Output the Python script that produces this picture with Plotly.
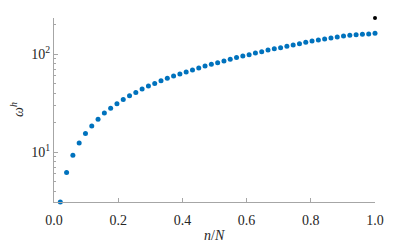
import math
import plotly.graph_objects as go

# Data
N = 51
n_index = list(range(1, 52))
omega_h = [3.11, 6.2, 9.3, 12.4, 15.5, 18.5, 21.7, 25.0, 28.1, 31.1,
           34.4, 37.5, 40.6, 43.9, 47.1, 50.2, 53.4, 56.5, 59.6, 62.5,
           65.5, 68.7, 72.0, 75.5, 78.5, 81.5, 84.8, 88.3, 92.0, 95.4,
           98.4, 102.4, 105.5, 109.9, 113.3, 115.9, 119.9, 123.6, 127.4, 132.0,
           135.8, 139.0, 142.3, 145.6, 149.0, 152.6, 155.2, 157.4, 158.8, 160.2,
           162.6]
extra_x = [1.0]
extra_y = [232.6]

x_ticks = [0.0, 0.2, 0.4, 0.6, 0.8, 1.0]
x_ticktext = ["0.0", "0.2", "0.4", "0.6", "0.8", "1.0"]
y_ticks = [10, 100]
y_ticktext = ["10<sup>1</sup>", "10<sup>2</sup>"]

x_vals = [k / N for k in n_index]

FONT = "Liberation Serif"
AX = "#a6a6a6"
TXT = "#262626"

# page body adds ~8px offset; figure sized so the page is 415x243
W, H = 407, 235
ML, MR, MT, MB = 46, 40, 10, 41
PW, PH = W - ML - MR, H - MT - MB

fig = go.Figure()
fig.add_trace(go.Scatter(x=x_vals, y=omega_h, mode="markers",
                         marker=dict(color="#0072BD", size=5, line=dict(width=0)),
                         cliponaxis=False, showlegend=False))
fig.add_trace(go.Scatter(x=extra_x, y=extra_y, mode="markers",
                         marker=dict(color="black", size=4, line=dict(width=0)),
                         cliponaxis=False, showlegend=False))

ymin = min(omega_h + extra_y)
ymax = max(omega_h + extra_y)
minor_vals = [v * d for d in (1, 10, 100) for v in range(2, 10)]
minor_vals = [v for v in minor_vals if ymin <= v <= ymax]

fig.update_layout(
    width=W, height=H,
    margin=dict(l=ML, r=MR, t=MT, b=MB, autoexpand=False),
    paper_bgcolor="white", plot_bgcolor="white",
    font=dict(family=FONT, size=14, color=TXT),
    xaxis=dict(range=[0, 1], tickvals=x_ticks, ticktext=x_ticktext,
               showline=True, linecolor=AX, linewidth=1, mirror=False,
               ticks="inside", ticklen=4, tickcolor=AX, showgrid=False,
               zeroline=False, automargin=False, ticklabelstandoff=5,
               tickfont=dict(family=FONT, size=14, color=TXT)),
    yaxis=dict(type="log", range=[math.log10(ymin), math.log10(ymax)],
               tickvals=y_ticks, ticktext=y_ticktext,
               showline=True, linecolor=AX, linewidth=1, mirror=False,
               ticks="inside", ticklen=4, tickcolor=AX, showgrid=False,
               zeroline=False, automargin=False,
               tickfont=dict(family=FONT, size=14, color=TXT),
               minor=dict(tickvals=minor_vals, ticks="inside", ticklen=2,
                          tickcolor=AX, showgrid=False)),
    annotations=[
        dict(text="<i>n</i>/<i>N</i>", xref="paper", yref="paper",
             x=0.5, y=(PH - (227 - MT)) / PH, xanchor="center", yanchor="middle",
             showarrow=False, font=dict(family=FONT, size=14, color=TXT)),
        dict(text="<i>ω</i><sup><i>h</i></sup>", xref="paper", yref="paper",
             x=(9 - ML) / PW, y=0.5, xanchor="center", yanchor="middle",
             textangle=-90, showarrow=False, borderpad=0,
             font=dict(family=FONT, size=14, color=TXT)),
    ],
)

fig.write_html("out.html")
